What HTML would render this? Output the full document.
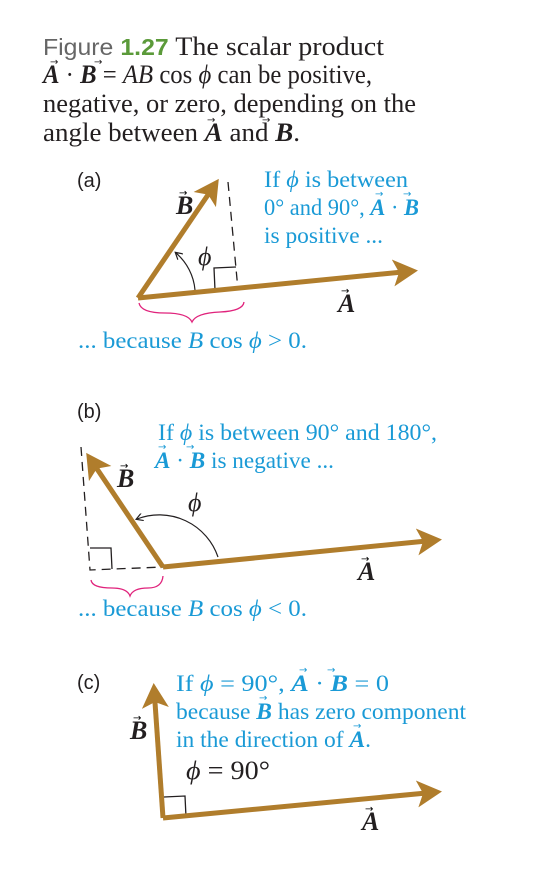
<!DOCTYPE html>
<html><head><meta charset="utf-8"><style>
html,body{margin:0;padding:0;background:#fff;width:533px;height:886px;overflow:hidden}
svg{display:block}
.t{font-family:"Liberation Serif",serif;font-size:26px;fill:#231f20}
.b{font-family:"Liberation Serif",serif;font-size:23px;fill:#1a9ad6}
.lab{font-family:"Liberation Sans",sans-serif;font-size:20px;fill:#231f20}
.v{font-family:"Liberation Serif",serif;font-weight:bold;font-style:italic}
.arr{font-family:"DejaVu Sans",sans-serif;font-size:10px}
</style></head><body>
<svg width="533" height="886" viewBox="0 0 533 886">
<defs>
<marker id="ah" markerWidth="6" markerHeight="6" refX="4" refY="3" orient="auto" markerUnits="strokeWidth"><path d="M0,0.3 L5,3 L0,5.7 L1.2,3 Z" fill="#b07d2c"/></marker>
<marker id="sh" markerWidth="8" markerHeight="8" refX="6" refY="4" orient="auto" markerUnits="userSpaceOnUse"><path d="M0,0 L7,4 L0,8" fill="none" stroke="#231f20" stroke-width="1.2"/></marker>
</defs>
<g>
<text x="43" y="55" class="t" textLength="341" lengthAdjust="spacingAndGlyphs"><tspan font-family="Liberation Sans" fill="#666" font-size="23">Figure</tspan> <tspan font-family="Liberation Sans" font-weight="bold" fill="#5b9a3a" font-size="23">1.27</tspan> The scalar product</text>
<text x="43" y="83" class="t" textLength="329" lengthAdjust="spacingAndGlyphs"><tspan class="v">A</tspan> · <tspan class="v">B</tspan> = <tspan font-style="italic">AB</tspan> cos <tspan font-style="italic">ϕ</tspan> can be positive,</text>
<text x="50" y="65" class="arr" fill="#231f20">→</text><text x="94" y="65" class="arr" fill="#231f20">→</text>
<text x="43" y="112" class="t" textLength="373" lengthAdjust="spacingAndGlyphs">negative, or zero, depending on the</text>
<text x="43" y="141" class="t" textLength="257" lengthAdjust="spacingAndGlyphs">angle between <tspan class="v">A</tspan> and <tspan class="v">B</tspan>.</text>
<text x="207" y="123" class="arr" fill="#231f20">→</text><text x="262" y="123" class="arr" fill="#231f20">→</text>
</g>
<!-- (a) -->
<g>
<text x="77" y="187" class="lab">(a)</text>
<line x1="228" y1="182" x2="238" y2="290" stroke="#231f20" stroke-width="1.3" stroke-dasharray="9,6"/>
<polyline points="215,290 214,268 236,267" fill="none" stroke="#231f20" stroke-width="1.3"/>
<path d="M195,290 A55,55 0 0 0 176,253" fill="none" stroke="#231f20" stroke-width="1.2" marker-end="url(#sh)"/>
<line x1="138" y1="298" x2="216" y2="183" stroke="#b07d2c" stroke-width="5" marker-end="url(#ah)"/>
<line x1="138" y1="298" x2="413" y2="271" stroke="#b07d2c" stroke-width="5" marker-end="url(#ah)"/>
<path d="M139,303 Q141,313 165,313 Q188,313 192,322 Q196,313 220,312 Q243,311 244,302" fill="none" stroke="#e0237c" stroke-width="1.3"/>
<text x="198" y="265" class="t" font-style="italic" font-size="23">ϕ</text>
<text x="176" y="214" class="t v" font-size="23">B</text><text x="179" y="196" class="arr">→</text>
<text x="338" y="312" class="t v" font-size="23">A</text><text x="341" y="294" class="arr">→</text>
<text x="264" y="187" class="b" textLength="144" lengthAdjust="spacingAndGlyphs">If <tspan font-style="italic">ϕ</tspan> is between</text>
<text x="264" y="215" class="b" textLength="155" lengthAdjust="spacingAndGlyphs">0° and 90°, <tspan class="v">A</tspan> · <tspan class="v">B</tspan></text>
<text x="375" y="197" class="b arr">→</text><text x="403" y="197" class="b arr">→</text>
<text x="264" y="243" class="b" textLength="119" lengthAdjust="spacingAndGlyphs">is positive ...</text>
<text x="78" y="348" class="b" textLength="229" lengthAdjust="spacingAndGlyphs">... because <tspan font-style="italic">B</tspan> cos <tspan font-style="italic">ϕ</tspan> &gt; 0.</text>
</g>
<!-- (b) -->
<g>
<text x="77" y="418" class="lab">(b)</text>
<polyline points="81,447 90,570 163,567" fill="none" stroke="#231f20" stroke-width="1.3" stroke-dasharray="9,6"/>
<polyline points="90,548 111,548 112,569" fill="none" stroke="#231f20" stroke-width="1.3"/>
<path d="M218,557 A62,62 0 0 0 137,519" fill="none" stroke="#231f20" stroke-width="1.2" marker-end="url(#sh)"/>
<line x1="163" y1="567" x2="89" y2="457" stroke="#b07d2c" stroke-width="5" marker-end="url(#ah)"/>
<line x1="163" y1="567" x2="437" y2="540" stroke="#b07d2c" stroke-width="5" marker-end="url(#ah)"/>
<path d="M91,580 Q92,588 112,588 Q127,588 130,596 Q133,588 148,588 Q162,588 163,576" fill="none" stroke="#e0237c" stroke-width="1.3"/>
<text x="188" y="511" class="t" font-style="italic" font-size="23">ϕ</text>
<text x="117" y="487" class="t v" font-size="23">B</text><text x="120" y="469" class="arr">→</text>
<text x="358" y="580" class="t v" font-size="23">A</text><text x="361" y="562" class="arr">→</text>
<text x="158" y="440" class="b" textLength="279" lengthAdjust="spacingAndGlyphs">If <tspan font-style="italic">ϕ</tspan> is between 90° and 180°,</text>
<text x="155" y="468" class="b" textLength="179" lengthAdjust="spacingAndGlyphs"><tspan class="v">A</tspan> · <tspan class="v">B</tspan> is negative ...</text>
<text x="158" y="450" class="b arr">→</text><text x="186" y="450" class="b arr">→</text>
<text x="78" y="616" class="b" textLength="229" lengthAdjust="spacingAndGlyphs">... because <tspan font-style="italic">B</tspan> cos <tspan font-style="italic">ϕ</tspan> &lt; 0.</text>
</g>
<!-- (c) -->
<g>
<text x="77" y="689" class="lab">(c)</text>
<polyline points="164,797 185,796 186,817" fill="none" stroke="#231f20" stroke-width="1.3"/>
<line x1="163" y1="818" x2="154" y2="688" stroke="#b07d2c" stroke-width="5" marker-end="url(#ah)"/>
<line x1="163" y1="818" x2="437" y2="792" stroke="#b07d2c" stroke-width="5" marker-end="url(#ah)"/>
<text x="130" y="739" class="t v" font-size="23">B</text><text x="133" y="721" class="arr">→</text>
<text x="362" y="830" class="t v" font-size="23">A</text><text x="365" y="812" class="arr">→</text>
<text x="186" y="779" class="t" font-size="23" textLength="84" lengthAdjust="spacingAndGlyphs"><tspan font-style="italic">ϕ</tspan> = 90°</text>
<text x="176" y="691" class="b" textLength="213" lengthAdjust="spacingAndGlyphs">If <tspan font-style="italic">ϕ</tspan> = 90°, <tspan class="v">A</tspan> · <tspan class="v">B</tspan> = 0</text>
<text x="299" y="673" class="b arr">→</text><text x="327" y="673" class="b arr">→</text>
<text x="176" y="719" class="b" textLength="290" lengthAdjust="spacingAndGlyphs">because <tspan class="v">B</tspan> has zero component</text>
<text x="259" y="701" class="b arr">→</text>
<text x="176" y="747" class="b" textLength="195" lengthAdjust="spacingAndGlyphs">in the direction of <tspan class="v">A</tspan>.</text>
<text x="353" y="729" class="b arr">→</text>
</g>
</svg>
</body></html>
